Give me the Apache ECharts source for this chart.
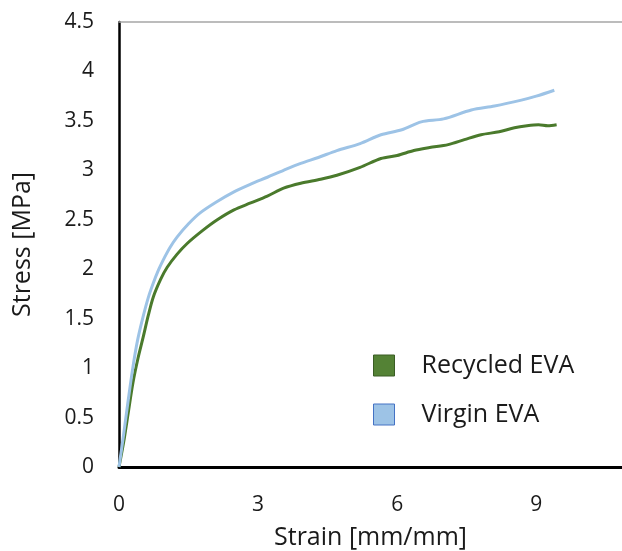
<!DOCTYPE html>
<html>
<head>
<meta charset="utf-8">
<script src="https://cdn.jsdelivr.net/npm/echarts@6/dist/echarts.min.js"></script>
<style>
  html, body { margin: 0; padding: 0; background: #fff; }
  #chart { width: 622px; height: 551px; }
</style>
</head>
<body>
<div id="chart"></div>
<script>
// values
const recycledStrain = [0, 0.1, 0.2, 0.3, 0.41, 0.52, 0.63, 0.74, 0.9, 1.04, 1.25, 1.47, 1.8, 2.12, 2.48, 2.84, 3.2, 3.55, 3.92, 4.35, 4.7, 5.2, 5.65, 6.0, 6.36, 6.7, 7.1, 7.45, 7.81, 8.2, 8.53, 8.8, 9.05, 9.25, 9.44];
const recycledStress = [0, 0.25, 0.55, 0.85, 1.1, 1.31, 1.53, 1.72, 1.9, 2.02, 2.15, 2.26, 2.39, 2.5, 2.6, 2.67, 2.74, 2.82, 2.87, 2.91, 2.95, 3.03, 3.12, 3.15, 3.2, 3.23, 3.26, 3.31, 3.36, 3.39, 3.43, 3.45, 3.46, 3.45, 3.46];

const virginStrain = [0, 0.1, 0.2, 0.3, 0.4, 0.52, 0.63, 0.74, 0.85, 0.95, 1.1, 1.26, 1.5, 1.75, 2.1, 2.47, 2.84, 3.2, 3.55, 3.92, 4.3, 4.7, 5.2, 5.65, 6.1, 6.52, 7.0, 7.6, 8.1, 8.68, 9.0, 9.39];
const virginStress = [0, 0.33, 0.68, 1.01, 1.28, 1.52, 1.71, 1.86, 1.99, 2.09, 2.22, 2.33, 2.46, 2.57, 2.68, 2.78, 2.86, 2.93, 3.0, 3.07, 3.13, 3.2, 3.27, 3.36, 3.41, 3.49, 3.52, 3.61, 3.65, 3.71, 3.75, 3.81];

const seriesNames = ["Recycled EVA", "Virgin EVA"];

const pair = (xs, ys) => xs.map((x, i) => [x, ys[i]]);

const chart = echarts.init(document.getElementById("chart"));
const font = "'Open Sans', 'Noto Sans', sans-serif";
const xMax = 10.85;

chart.setOption({
  animation: false,
  grid: {
    left: 119,
    top: 22,
    right: 0,
    bottom: 84,
    outerBoundsMode: "none"
  },
  legend: {
    orient: "vertical",
    left: 368,
    top: 348,
    itemWidth: 21,
    itemHeight: 21,
    itemGap: 24,
    textStyle: { fontFamily: font, fontSize: 25, color: "#1a1a1a", padding: [0, 0, 0, 22] },
    data: [
      { name: seriesNames[0], icon: "rect", itemStyle: { color: "#548235", borderColor: "#3a5d24", borderWidth: 1 } },
      { name: seriesNames[1], icon: "rect", itemStyle: { color: "#9dc3e6", borderColor: "#4472c4", borderWidth: 1 } }
    ]
  },
  xAxis: [
    {
      type: "value",
      min: 0,
      max: xMax,
      interval: 3,
      name: "Strain [mm/mm]",
      nameLocation: "middle",
      nameGap: 58,
      nameTextStyle: { fontFamily: font, fontSize: 25, color: "#1a1a1a" },
      axisLine: { lineStyle: { color: "#000", width: 3 } },
      axisTick: { show: false },
      splitLine: { show: false },
      axisLabel: {
        margin: 28,
        fontFamily: font,
        fontSize: 21,
        color: "#1a1a1a",
        formatter: v => (v % 3 === 0 ? String(v) : "")
      }
    },
    {
      // thin grey frame line along the top of the plot
      type: "value",
      position: "top",
      min: 0,
      max: xMax,
      axisLine: { show: true, onZero: false, lineStyle: { color: "#a6a6a6", width: 1.5 } },
      axisTick: { show: false },
      axisLabel: { show: false },
      splitLine: { show: false }
    }
  ],
  yAxis: {
    type: "value",
    min: 0,
    max: 4.5,
    interval: 0.5,
    name: "Stress [MPa]",
    nameLocation: "middle",
    nameGap: 84,
    nameTextStyle: { fontFamily: font, fontSize: 25, color: "#1a1a1a" },
    axisLine: { show: true, lineStyle: { color: "#000", width: 2.5 } },
    axisTick: { show: false },
    splitLine: { show: false },
    axisLabel: { margin: 25, fontFamily: font, fontSize: 21, color: "#1a1a1a" }
  },
  series: [
    {
      name: seriesNames[0],
      type: "line",
      data: pair(recycledStrain, recycledStress),
      showSymbol: false,
      smooth: 0.3,
      lineStyle: { color: "#4a7a2c", width: 3 },
      itemStyle: { color: "#548235" }
    },
    {
      name: seriesNames[1],
      type: "line",
      data: pair(virginStrain, virginStress),
      showSymbol: false,
      smooth: 0.3,
      lineStyle: { color: "#9dc3e6", width: 3 },
      itemStyle: { color: "#9dc3e6" }
    }
  ]
});

window.addEventListener("resize", () => chart.resize());
</script>
</body>
</html>
